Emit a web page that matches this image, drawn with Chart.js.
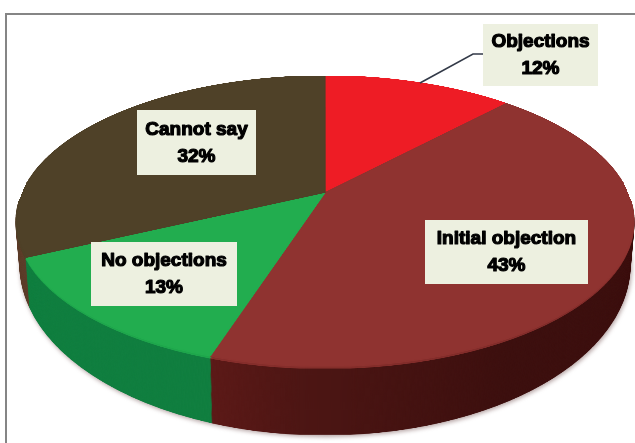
<!DOCTYPE html>
<html>
<head>
<meta charset="utf-8">
<script src="https://cdn.jsdelivr.net/npm/chart.js@4"></script>
<style>
    html, body { margin: 0; padding: 0; background: #fff; overflow: hidden; }
    #wrap { position: relative; width: 635px; height: 443px; }
    #pieChart { position: absolute; left: 0; top: 0; filter: blur(0.45px); }
    #frame { position: absolute; left: 5px; top: 13px; width: 640px; height: 450px;
             border-left: 2px solid #858585; border-top: 2px solid #858585; }
</style>
</head>
<body>
<div id="wrap">
    <canvas id="pieChart" width="635" height="443"></canvas>
    <div id="frame"></div>
</div>
<script>
    const categories = ["Objections", "Initial objection", "No objections", "Cannot say"];
    const shares = [12, 43, 13, 32];
    const faceColors = ["#ee1c25", "#8f3330", "#22ad4f", "#4f4128"];
    const wallColors = ["#7a1a1a", "#4a1513", "#117f40", "#5e3f2c"];

    // Boxes for the callouts: left, top, width, height
    const labelBoxes = [
        [483, 24, 115, 62],
        [425, 220, 163, 64],
        [91, 242, 146, 64],
        [137, 110, 119, 65],
    ];

    // Perspective of the disc, top face and bottom face
    const topFace = { cx: 325, y0: 193, b: 140, p: -0.196, a: 303 };
    const bottomFace = { cx: 325, y0: 232, b: 163.5, p: -0.196, a: 299 };
    const SRC = 1200;

    // Paint the library's arcs flat on a square canvas, seen from straight above
    function flatPie(arcs, colors) {
        const off = document.createElement("canvas");
        off.width = off.height = SRC;
        const c = off.getContext("2d");
        const r = arcs[0].outerRadius;
        const k = SRC / (2 * r);
        c.scale(k, k);
        c.translate(r - arcs[0].x, r - arcs[0].y);
        arcs.forEach((arc, i) => {
            const saved = arc.options;
            let fill = colors[i];
            if (i === 1 && colors === wallColors) {
                // front wall of the big slice gets darker to the right
                fill = c.createLinearGradient(arc.x - 0.62 * r, 0, arc.x + 0.5 * r, 0);
                fill.addColorStop(0, "#701f1d");
                fill.addColorStop(0.5, "#4d1614");
                fill.addColorStop(1, "#3d100f");
            }
            arc.options = Object.assign({}, saved, { backgroundColor: fill, borderColor: fill, borderWidth: 1 });
            arc.draw(c);
            arc.options = saved;
        });
        return off;
    }

    // Draw the flat pie row by row through the perspective mapping
    function warp(ctx, img, f) {
        const top = Math.floor(f.y0 - f.b / (1 - f.p));
        const bottom = Math.ceil(f.y0 + f.b / (1 + f.p));
        for (let y = top; y < bottom; y++) {
            const Y = y + 0.5 - f.y0;
            const v = Y / (f.b - f.p * Y);
            const vNext = (Y + 1) / (f.b - f.p * (Y + 1));
            if (v < -1 || v > 1) continue;
            const w = f.a / (1 + f.p * v);
            const sy = (v + 1) / 2 * SRC;
            const sh = Math.max(1, (vNext - v) / 2 * SRC);
            ctx.drawImage(img, 0, sy, SRC, sh, f.cx - w, y, 2 * w, 1);
        }
    }

    function lerpFace(t) {
        const out = {};
        Object.keys(topFace).forEach((key) => {
            out[key] = topFace[key] + (bottomFace[key] - topFace[key]) * t;
        });
        return out;
    }

    const disc3d = {
        id: "disc3d",
        beforeDatasetsDraw(chart) {
            const ctx = chart.ctx;
            const arcs = chart.getDatasetMeta(0).data;
            const wall = flatPie(arcs, wallColors);
            const face = flatPie(arcs, faceColors);

            // soft shadow under the disc
            ctx.save();
            ctx.filter = "blur(2px)";
            ctx.fillStyle = "rgba(120,90,90,0.55)";
            ctx.beginPath();
            ctx.ellipse(326, 266, 306, 171, 0, 0, Math.PI * 2);
            ctx.fill();
            ctx.restore();

            for (let s = 70; s > 0; s--) {
                warp(ctx, wall, lerpFace(s / 70));
            }
            // pale rim on the front edge
            ctx.save();
            ctx.globalAlpha = 0.85;
            warp(ctx, flatPie(arcs, faceColors), lerpFace(2 / 70));
            ctx.restore();
            warp(ctx, face, topFace);

            // leader line of the first callout
            ctx.strokeStyle = "#333a48";
            ctx.lineWidth = 1.6;
            ctx.beginPath();
            ctx.moveTo(420, 83);
            ctx.lineTo(473, 54);
            ctx.lineTo(483, 54);
            ctx.stroke();

            ctx.textAlign = "center";
            ctx.textBaseline = "middle";
            ctx.font = "bold 19px 'Liberation Sans'";
            ctx.lineJoin = "round";
            categories.forEach((name, i) => {
                const [x, y, w, h] = labelBoxes[i];
                ctx.fillStyle = "#edf0e0";
                ctx.fillRect(x, y, w, h);
                const lines = [name, shares[i] + "%"];
                lines.forEach((text, n) => {
                    const ty = y + h / 2 + (n === 0 ? -13 : 14);
                    ctx.fillStyle = "#000";
                    ctx.strokeStyle = "#000";
                    ctx.lineWidth = 1.2;
                    ctx.fillText(text, x + w / 2, ty);
                    ctx.strokeText(text, x + w / 2, ty);
                });
            });
            return false;
        },
    };

    new Chart(document.getElementById("pieChart"), {
        type: "pie",
        data: {
            labels: categories,
            datasets: [{ data: shares, backgroundColor: faceColors, borderWidth: 0 }],
        },
        options: {
            responsive: false,
            animation: false,
            plugins: { legend: { display: false }, tooltip: { enabled: false } },
        },
        plugins: [disc3d],
    });
</script>
</body>
</html>
